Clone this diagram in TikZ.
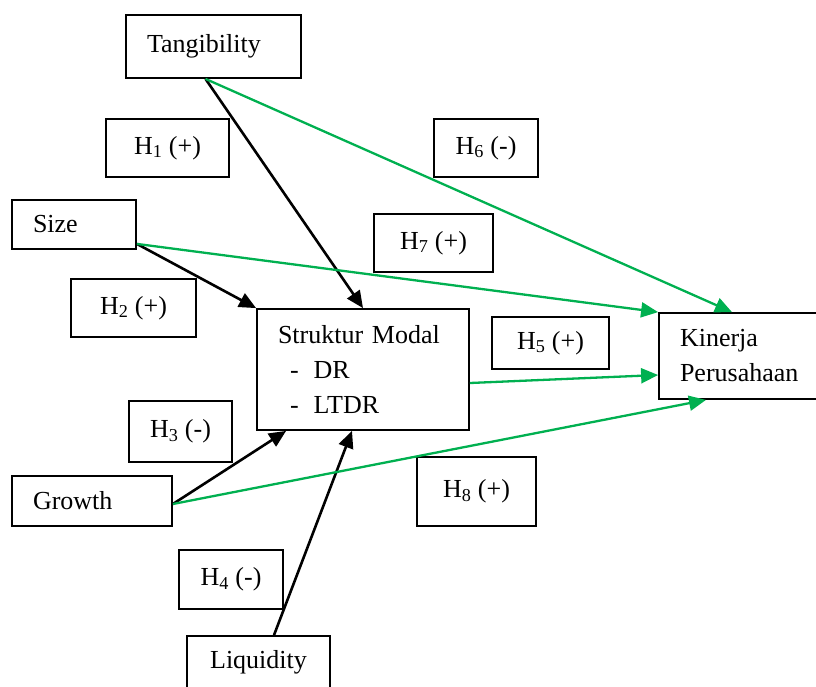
\documentclass[tikz,border=0pt]{standalone}
\usepackage{fontspec}
\setmainfont{Liberation Serif}
\usetikzlibrary{arrows.meta,positioning}
\definecolor{pathgreen}{RGB}{0,176,80}
\tikzset{
  varbox/.style={draw=black, line width=1.8pt, rectangle, inner xsep=21pt, inner ysep=0pt, align=left, font=\fontsize{26}{35}\selectfont},
  hypbox/.style={draw=black, line width=1.8pt, rectangle, inner sep=0pt, align=center, font=\fontsize{26}{35}\selectfont},
  effect/.style={-{Triangle[length=17pt,width=15pt]}, line width=2.6pt, draw=black},
  greeneffect/.style={-{Triangle[length=17pt,width=15pt]}, line width=2.3pt, draw=pathgreen}
}
\begin{document}
\begin{tikzpicture}[x=1pt, y=-1pt]
  \useasboundingbox (0,0) rectangle (816,686);
  \node[varbox, text width=133pt, minimum height=63pt] (tang) at (213.5,46.5) {Tangibility};
  \node[varbox, text width=82pt, minimum height=49pt] (size) at (74,224.5) {Size};
  \node[varbox, text width=118pt, minimum height=50pt] (growth) at (92,501) {Growth};
  \node[hypbox, minimum width=143pt, minimum height=52pt] (liq) at (258.5,662) {Liquidity};
  \node[varbox, text width=170pt, minimum height=121pt] (struk) at (363,369.5) {Struktur Modal\\\hspace*{12pt}-\hspace{15pt}DR\\\hspace*{12pt}-\hspace{15pt}LTDR};
  \node[varbox, text width=125pt, minimum height=86pt] (kin) at (742.5,356) {Kinerja\\Perusahaan};
  \node[hypbox, minimum width=123pt, minimum height=58pt] (h1) at (167.5,148) {H\textsubscript{1} (+)};
  \node[hypbox, minimum width=125pt, minimum height=58pt] (h2) at (133.5,308) {H\textsubscript{2} (+)};
  \node[hypbox, minimum width=103pt, minimum height=61pt] (h3) at (180.5,431.5) {H\textsubscript{3} (-)};
  \node[hypbox, minimum width=104pt, minimum height=59pt] (h4) at (231,579.5) {H\textsubscript{4} (-)};
  \node[hypbox, minimum width=117pt, minimum height=52pt] (h5) at (550.5,343) {H\textsubscript{5} (+)};
  \node[hypbox, minimum width=104pt, minimum height=58pt] (h6) at (486,148) {H\textsubscript{6} (-)};
  \node[hypbox, minimum width=119pt, minimum height=58pt] (h7) at (433.5,243) {H\textsubscript{7} (+)};
  \node[hypbox, minimum width=119pt, minimum height=69pt] (h8) at (476.5,491.5) {H\textsubscript{8} (+)};
  \draw[effect] ([xshift=-8pt]tang.south) -- (struk.north);
  \draw[effect] ([yshift=6pt]size.south east) -- (struk.north west);
  \draw[effect] ([yshift=-3pt]growth.east) -- ([xshift=30pt]struk.south west);
  \draw[effect] ([xshift=15.5pt]liq.north) -- ([xshift=-11pt]struk.south);
  \draw[greeneffect] ([xshift=-8pt]tang.south) -- ([xshift=-10.5pt]kin.north);
  \draw[greeneffect] ([yshift=6pt]size.south east) -- (kin.north west);
  \draw[greeneffect] ([yshift=-13.5pt]struk.east) -- ([yshift=-19pt]kin.west);
  \draw[greeneffect] ([yshift=-3pt]growth.east) -- ([xshift=-36.5pt]kin.south);
\end{tikzpicture}
\end{document}
